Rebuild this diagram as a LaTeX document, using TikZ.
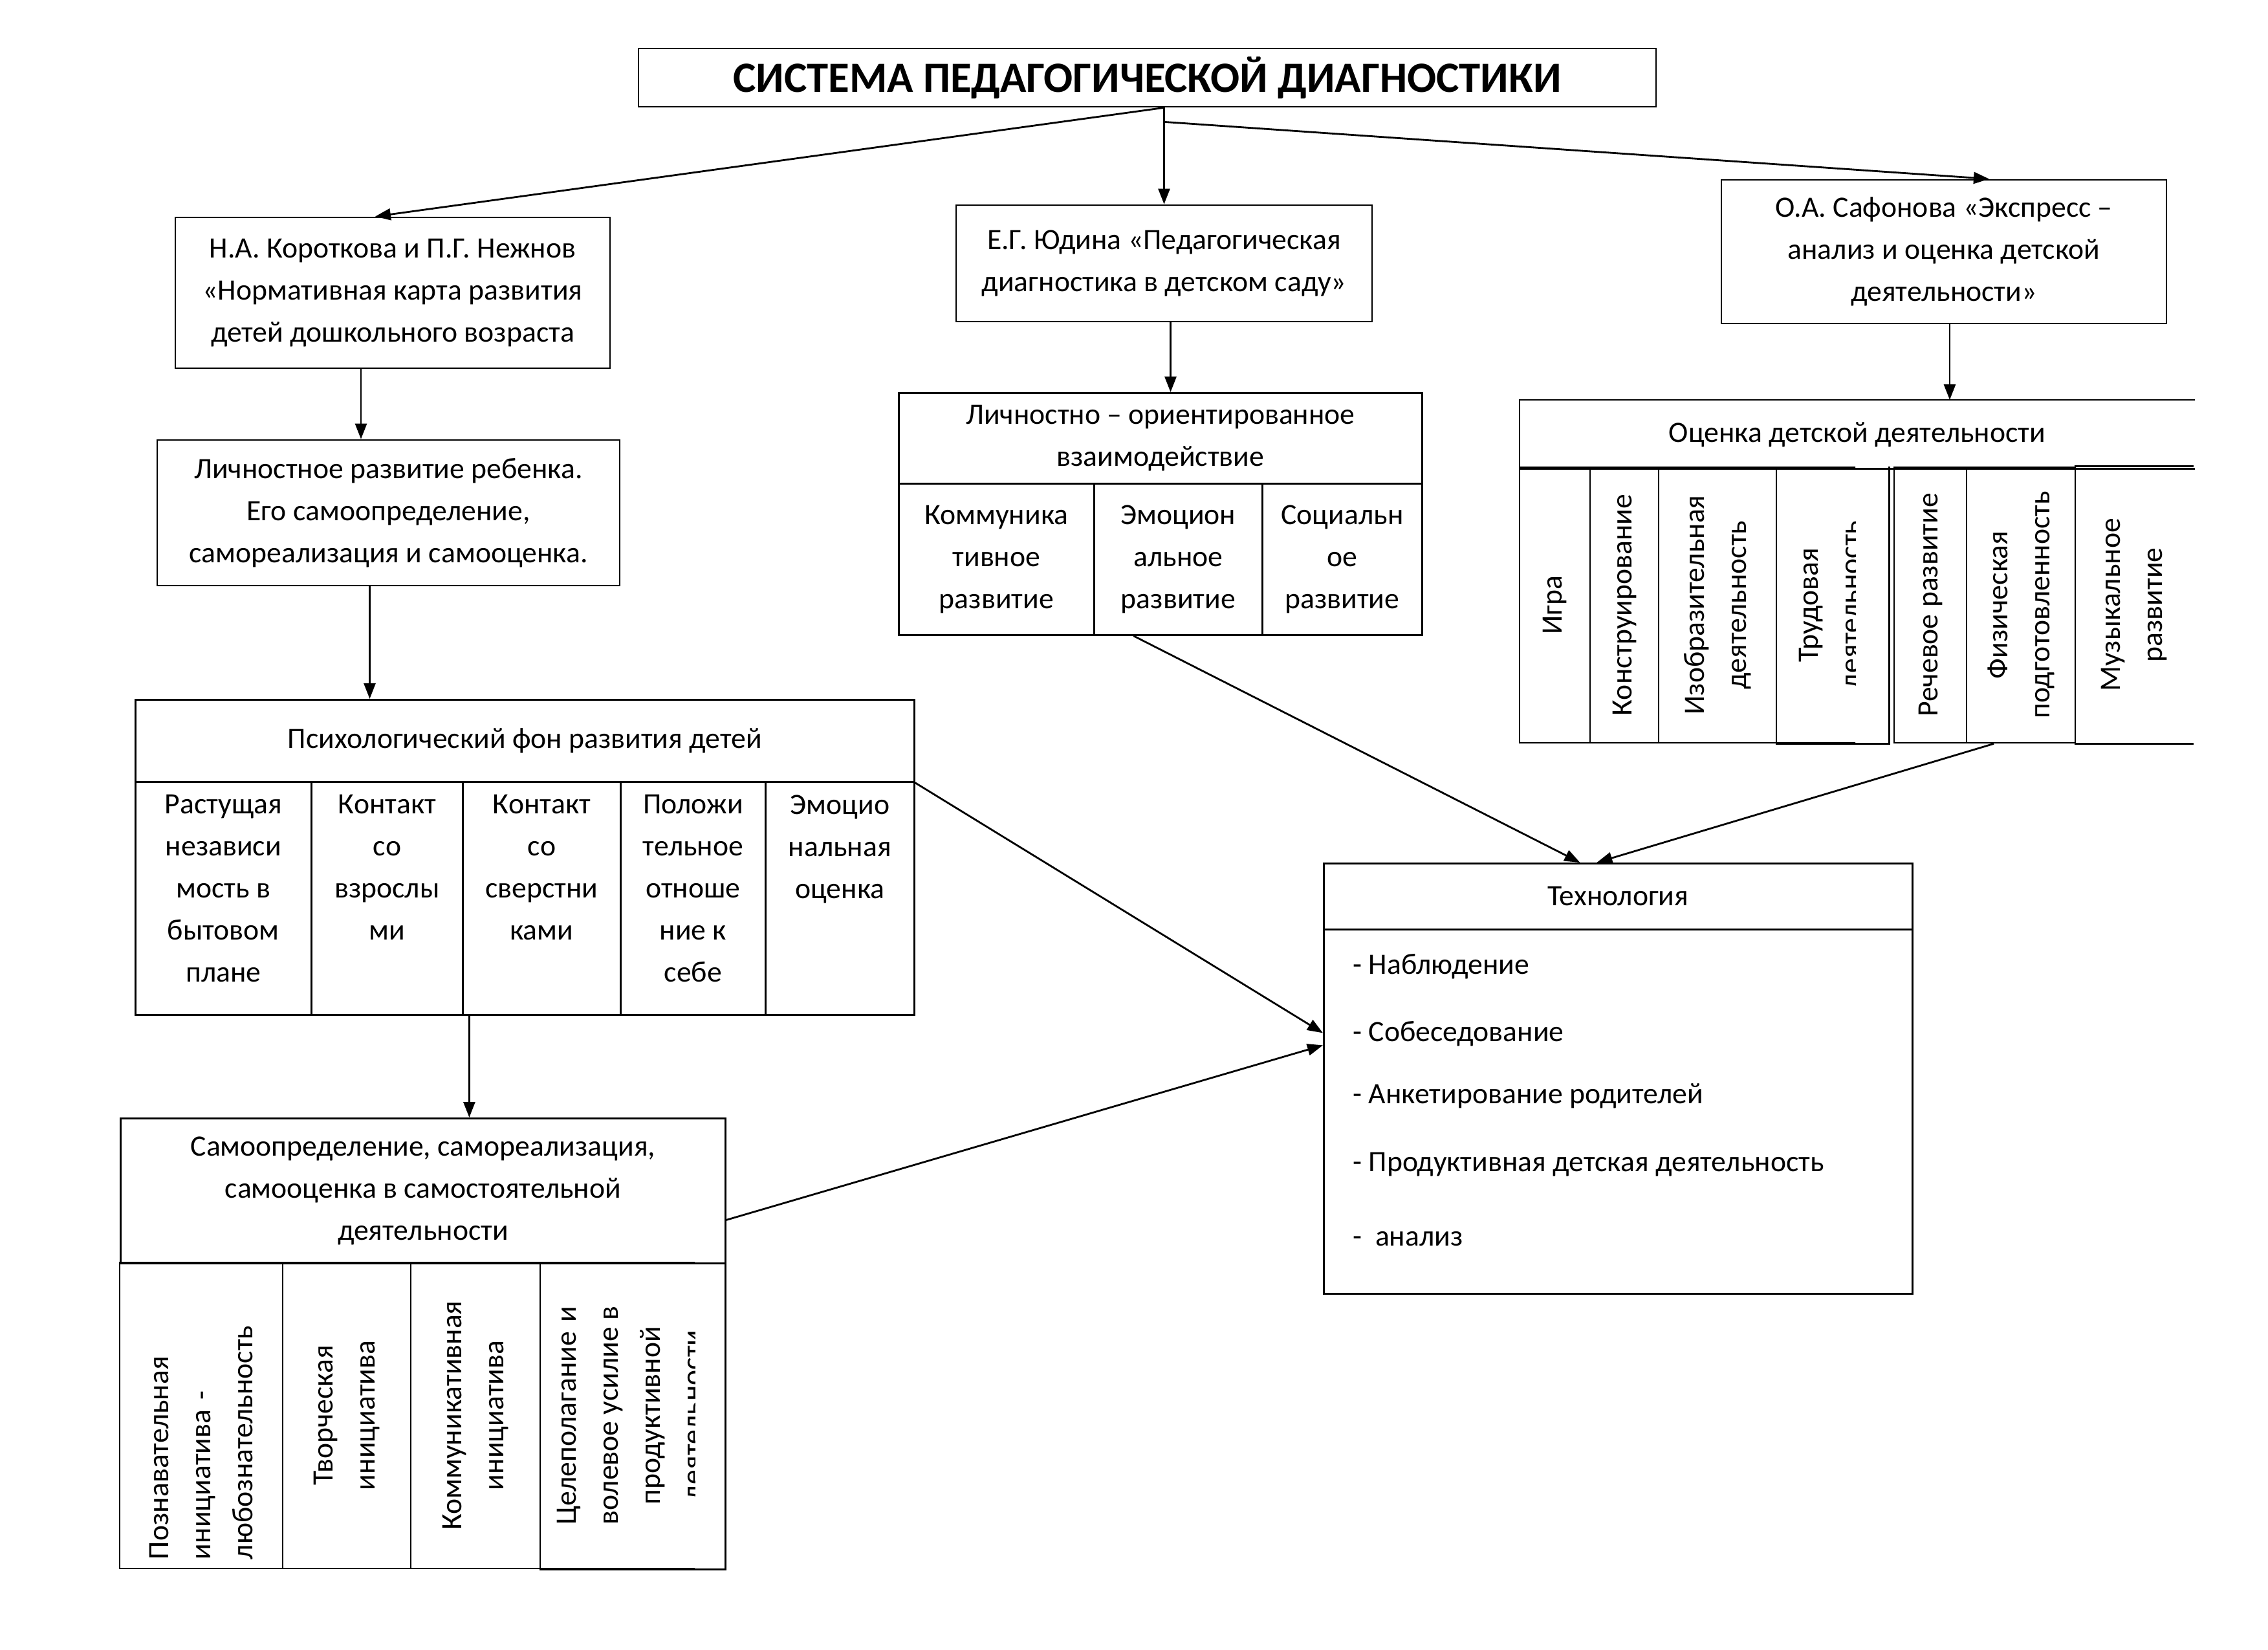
\documentclass[tikz,border=0pt]{standalone}
\usepackage{fontspec}
\setmainfont{Carlito}
\usetikzlibrary{arrows.meta,positioning}

\tikzset{
  txt/.style={font=\fontsize{13}{18.5}\selectfont},
  box/.style={draw, rectangle, align=center, inner sep=0pt, txt},
  cell/.style={box, anchor=north west},
  vcell/.style={box, rotate=90},
  arr/.style={-{Triangle[length=2.4mm,width=1.8mm]}},
}
\newcommand{\topcell}[2]{\parbox[t][3.2cm][t]{#1}{\centering #2}}
\newlength{\lineW}

\begin{document}
\begin{tikzpicture}[x=1cm, y=-1cm, line width=0.8pt]
    \useasboundingbox (0,0) rectangle (35.06,25.50);

    % Title
    \node[box, minimum width=15.73cm, minimum height=0.90cm,
          font=\fontsize{19}{23}\selectfont\bfseries] (title) at (17.735,1.20)
          {СИСТЕМА ПЕДАГОГИЧЕСКОЙ ДИАГНОСТИКИ};

    % Left branch
    \node[box, minimum width=6.72cm, minimum height=2.33cm] (korot) at (6.07,4.525)
          {Н.А. Короткова и П.Г. Нежнов\\«Нормативная карта развития\\детей дошкольного возраста};
    \node[box, minimum width=7.15cm, minimum height=2.25cm] (lichn) at (6.005,7.925)
          {Личностное развитие ребенка.\\Его самоопределение,\\самореализация и самооценка.};

    \node[cell, minimum width=12.04cm, minimum height=1.27cm] (psHead) at (2.08,10.80)
          {Психологический фон развития детей};
    \foreach \n/\xa/\w/\t in {1/2.08/2.72/{Растущая\\независи\\мость в\\бытовом\\плане},
                              2/4.80/2.34/{Контакт\\со\\взрослы\\ми},
                              3/7.14/2.44/{Контакт\\со\\сверстни\\ками},
                              4/9.58/2.24/{Положи\\тельное\\отноше\\ние к\\себе},
                              5/11.82/2.30/{Эмоцио\\нальная\\оценка}}
        \node[cell, minimum width=\w cm, minimum height=3.60cm] (ps\n) at (\xa,12.07) {\topcell{\w cm}{\t}};

    \node[cell, minimum width=9.35cm, minimum height=2.24cm] (saHead) at (1.85,17.27)
          {Самоопределение, самореализация,\\самооценка в самостоятельной\\деятельности};
    \node[vcell, minimum width=4.73cm, minimum height=2.52cm, align=left, text width=4.45cm] (sa1) at (3.11,21.875)
          {Познавательная\\инициатива -\\любознательность};
    \node[vcell, minimum width=4.73cm, minimum height=1.98cm] (sa2) at (5.36,21.875) {Творческая\\инициатива};
    \node[vcell, minimum width=4.73cm, minimum height=2.00cm] (sa3) at (7.35,21.875) {Коммуникативная\\инициатива};
    \begin{scope}
        \clip (8.0,19.0) rectangle (10.74,24.8);
        \node[vcell, minimum width=4.73cm, minimum height=2.85cm] (sa4) at (9.775,21.875)
              {\settowidth{\lineW}{волевое усилие в}\makebox[\lineW][s]{Целеполагание и}\\волевое усилие в\\продуктивной\\деятельности};
    \end{scope}
    \draw (sa4.north west) -- (sa4.south west) -- (sa4.south east);

    % Middle branch
    \node[box, minimum width=6.43cm, minimum height=1.80cm] (yudina) at (17.995,4.07)
          {Е.Г. Юдина «Педагогическая\\диагностика в детском саду»};
    \node[cell, minimum width=8.09cm, minimum height=1.40cm] (lvHead) at (13.88,6.06)
          {Личностно – ориентированное\\взаимодействие};
    \foreach \n/\xa/\w/\t in {1/13.88/3.02/{Коммуника\\тивное\\развитие},
                              2/16.90/2.60/{Эмоцион\\альное\\развитие},
                              3/19.50/2.47/{Социальн\\ое\\развитие}}
        \node[cell, minimum width=\w cm, minimum height=2.34cm] (lv\n) at (\xa,7.46) {\t};

    % Right branch
    \node[box, minimum width=6.88cm, minimum height=2.22cm] (safon) at (30.05,3.89)
          {О.А. Сафонова «Экспресс –\\анализ и оценка детской\\деятельности»};
    \node[cell, draw=none, minimum width=10.41cm, minimum height=1.04cm] (ocHead) at (23.49,6.18)
          {Оценка детской деятельности};
    \draw (ocHead.north east) -- (ocHead.north west) -- (ocHead.south west) -- (ocHead.south east);
    \foreach \n/\xc/\w/\t in {1/24.035/1.09/{Игра},
                              2/25.11/1.06/{Конструирование},
                              3/26.55/1.82/{Изобразительная\\деятельность},
                              5/29.84/1.12/{Речевое развитие},
                              6/31.24/1.68/{Физическая\\подготовленность}}
        \node[vcell, minimum width=4.26cm, minimum height=\w cm] (oc\n) at (\xc,9.35) {\t};
    \begin{scope}
        \clip (27.0,7.0) rectangle (28.68,12.0);
        \node[vcell, minimum width=4.26cm, minimum height=1.73cm] (oc4) at (28.325,9.35) {Трудовая\\деятельность};
    \end{scope}
    \draw (oc4.north west) -- (oc4.south west) -- (oc4.south east);
    \node[vcell, draw=none, minimum width=4.26cm, minimum height=1.82cm] (oc7) at (32.99,9.35) {Музыкальное\\развитие};
    \draw (oc7.north east) -- (oc7.south east);
    \draw (oc7.north west) -- (oc7.south west);

    % Technology
    \node[cell, minimum width=9.10cm, minimum height=1.02cm] (techHead) at (20.45,13.33) {Технология};
    \node[cell, minimum width=9.10cm, minimum height=5.63cm] (tech) at (20.45,14.35) {};
    \foreach \n/\yy/\t in {1/15.05/{- Наблюдение},
                           2/16.09/{- Собеседование},
                           3/17.06/{- Анкетирование родителей},
                           4/18.10/{- Продуктивная детская деятельность},
                           5/19.25/{-\ \ анализ}}
        \node[txt, anchor=base west, inner sep=0pt] (item\n) at (20.90,\yy) {\t};

    % Arrows
    \coordinate (hub) at (title.south -| yudina.north);
    \draw[arr] (hub) -- (yudina.north);
    \draw[arr] (hub) -- ([xshift=-0.27cm]korot.north);
    \draw[arr] ([yshift=-0.22cm]hub) -- ([xshift=0.70cm]safon.north);

    \draw[arr] ([xshift=-0.49cm]korot.south) -- ([xshift=-0.49cm]korot.south |- lichn.north);
    \draw[arr] ([xshift=-0.29cm]lichn.south) -- ([xshift=-0.29cm]lichn.south |- psHead.north);
    \draw[arr] ([xshift=-1.12cm]ps3.south) -- ([xshift=-1.12cm]ps3.south |- saHead.north);
    \draw[arr] ([xshift=0.10cm]yudina.south) -- ([xshift=0.10cm]yudina.south |- lvHead.north);
    \draw[arr] ([xshift=0.09cm]safon.south) -- ([xshift=0.09cm]safon.south |- ocHead.north);

    \draw[arr] ([xshift=-0.69cm]lv2.south) -- ([xshift=-0.59cm]techHead.north);
    \draw[arr] ([xshift=-0.42cm]oc6.west) -- ([xshift=-0.33cm]techHead.north);
    \draw[arr] (psHead.south east) -- ([yshift=1.215cm]tech.west);
    \draw[arr] ([yshift=-0.45cm]saHead.east) -- ([yshift=1.025cm]tech.west);
\end{tikzpicture}
\end{document}
